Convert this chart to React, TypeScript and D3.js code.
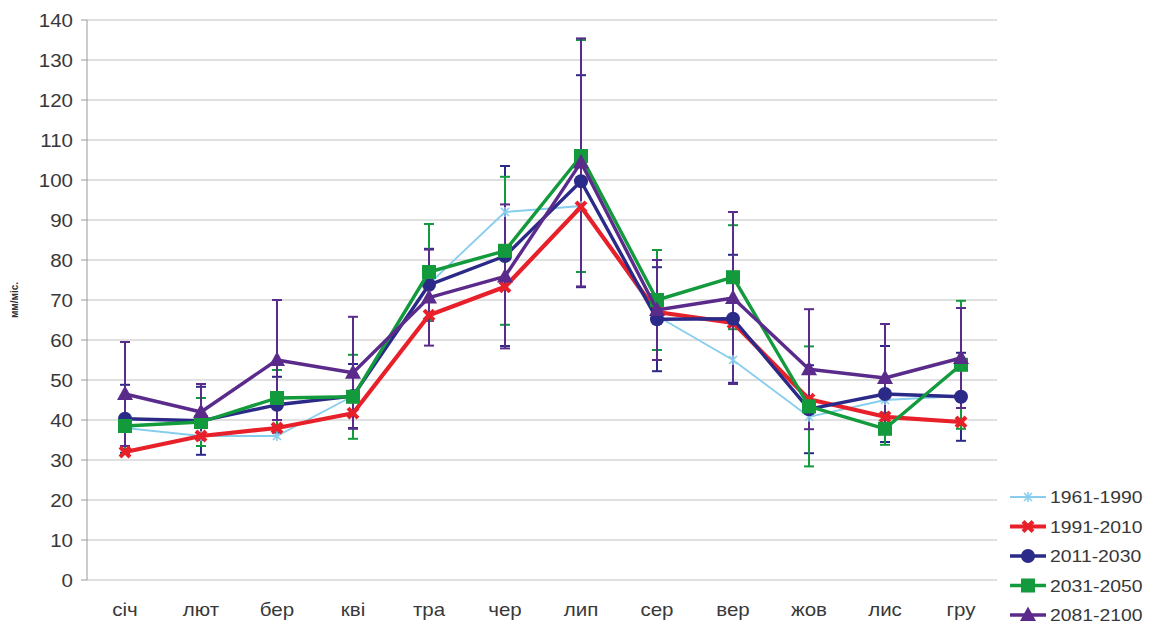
import React from "react";
import * as d3 from "d3";

const months = ["січ", "лют", "бер", "кві", "тра", "чер", "лип", "сер", "вер", "жов", "лис", "гру"];
const yTicks = [0, 10, 20, 30, 40, 50, 60, 70, 80, 90, 100, 110, 120, 130, 140];

const s1961 = [38, 36, 36, 46, 74, 92, 93.5, 66, 55, 40.8, 45, 46];
const s1991 = [32, 36, 38, 41.7, 66.2, 73.3, 93.3, 67, 64.3, 45.2, 40.8, 39.5];
const s2011 = [40.3, 39.8, 43.8, 46, 73.8, 81, 99.7, 65.2, 65.3, 42.7, 46.5, 45.8];
const s2031 = [38.5, 39.5, 45.5, 45.8, 77, 82.3, 106, 70, 75.7, 43.4, 37.8, 53.8];
const s2081 = [46.5, 42, 55, 51.8, 70.6, 75.9, 104.4, 67.5, 70.5, 52.7, 50.5, 55.5];

const e2011 = [8.5, 8.5, 7, 8, 9, 22.5, 26.5, 13, 16, 11, 12, 11];
const e2031 = [7, 6, 7, 10.5, 12, 18.5, 29, 12.5, 13, 15, 4, 16];
const e2081 = [13, 7, 15, 14, 12, 18, 31, 12.5, 21.5, 15, 13.5, 12.5];

const seriesNames = ["1961-1990", "1991-2010", "2011-2030", "2031-2050", "2081-2100"];

type Series = {
  name: string;
  values: number[];
  err: number[] | null;
  color: string;
  width: number;
  marker: string;
};

const series: Series[] = [
  { name: seriesNames[0], values: s1961, err: null, color: "#86cdee", width: 1.8, marker: "star" },
  { name: seriesNames[1], values: s1991, err: null, color: "#e8202a", width: 4.2, marker: "xmark" },
  { name: seriesNames[2], values: s2011, err: e2011, color: "#2c2a88", width: 3.4, marker: "circle" },
  { name: seriesNames[3], values: s2031, err: e2031, color: "#129a3c", width: 3.4, marker: "square" },
  { name: seriesNames[4], values: s2081, err: e2081, color: "#5b2b8c", width: 3.4, marker: "triangle" },
];

const FONT = "'Liberation Sans', Arial, sans-serif";

function Marker({ type, x, y, color }: { type: string; x: number; y: number; color: string }) {
  if (type === "circle") return <circle cx={x} cy={y} r={7} fill={color} />;
  if (type === "square") return <rect x={x - 7} y={y - 7} width={14} height={14} fill={color} />;
  if (type === "triangle")
    return <path d={`M${x},${y - 8.5} L${x + 8},${y + 6} L${x - 8},${y + 6} Z`} fill={color} />;
  if (type === "xmark")
    return (
      <g stroke={color} strokeWidth={4}>
        <line x1={x - 5} y1={y - 5} x2={x + 5} y2={y + 5} />
        <line x1={x - 5} y1={y + 5} x2={x + 5} y2={y - 5} />
      </g>
    );
  return (
    <g stroke={color} strokeWidth={1.6}>
      <line x1={x - 4} y1={y - 4} x2={x + 4} y2={y + 4} />
      <line x1={x - 4} y1={y + 4} x2={x + 4} y2={y - 4} />
      <line x1={x} y1={y - 5} x2={x} y2={y + 5} />
    </g>
  );
}

export default function App() {
  const W = 1159;
  const H = 630;
  const left = 87;
  const right = 997;
  const x = d3.scalePoint<string>().domain(months).range([125, 961]);
  const y = d3.scaleLinear().domain([0, 140]).range([580, 20]);
  const line = d3
    .line<number>()
    .x((_, i) => x(months[i]) as number)
    .y((d) => y(d));

  const legendY = [497, 526.5, 556, 585.5, 615];

  return (
    <svg
      width={W}
      height={H}
      style={{ position: "absolute", left: 0, top: 0, background: "#fff" }}
      fontFamily={FONT}
    >
      <rect width={W} height={H} fill="#fff" />
      {yTicks.map((t) => (
        <g key={t}>
          <line x1={left} x2={right} y1={y(t)} y2={y(t)} stroke="#d6d6d6" strokeWidth={1.5} />
          <line x1={left - 6} x2={left} y1={y(t)} y2={y(t)} stroke="#999" strokeWidth={1} />
          <text
            transform={`translate(73,${y(t) + 6.5}) scale(1.14,1)`}
            textAnchor="end"
            fontSize={18}
            fill="#383838"
          >
            {t}
          </text>
        </g>
      ))}
      <line x1={left} x2={left} y1={y(140)} y2={y(0)} stroke="#999" strokeWidth={1} />
      <text
        transform="translate(18,300) rotate(-90)"
        textAnchor="middle"
        fontSize={10}
        fontWeight="bold"
        fill="#333"
      >
        мм/міс.
      </text>
      {months.map((m) => (
        <text
          key={m}
          transform={`translate(${x(m)},${616}) scale(1.14,1)`}
          textAnchor="middle"
          fontSize={18}
          fill="#383838"
        >
          {m}
        </text>
      ))}
      {series.map((s) => (
        <g key={s.name}>
          {s.err &&
            s.values.map((v, i) => {
              const cx = x(months[i]) as number;
              const e = (s.err as number[])[i];
              return (
                <g key={i} stroke={s.color} strokeWidth={2}>
                  <line x1={cx} x2={cx} y1={y(v + e)} y2={y(v - e)} />
                  <line x1={cx - 5} x2={cx + 5} y1={y(v + e)} y2={y(v + e)} />
                  <line x1={cx - 5} x2={cx + 5} y1={y(v - e)} y2={y(v - e)} />
                </g>
              );
            })}
        </g>
      ))}
      {series.map((s) => (
        <g key={s.name}>
          <path d={line(s.values) || ""} fill="none" stroke={s.color} strokeWidth={s.width} strokeLinejoin="round" />
          {s.values.map((v, i) => (
            <Marker key={i} type={s.marker} x={x(months[i]) as number} y={y(v)} color={s.color} />
          ))}
        </g>
      ))}
      {series.map((s, i) => (
        <g key={s.name}>
          <line x1={1010} x2={1046} y1={legendY[i]} y2={legendY[i]} stroke={s.color} strokeWidth={s.width} />
          <Marker type={s.marker} x={1028} y={legendY[i]} color={s.color} />
          <text
            transform={`translate(1050,${legendY[i] + 6}) scale(1.14,1)`}
            fontSize={17}
            fill="#383838"
          >
            {s.name}
          </text>
        </g>
      ))}
    </svg>
  );
}
